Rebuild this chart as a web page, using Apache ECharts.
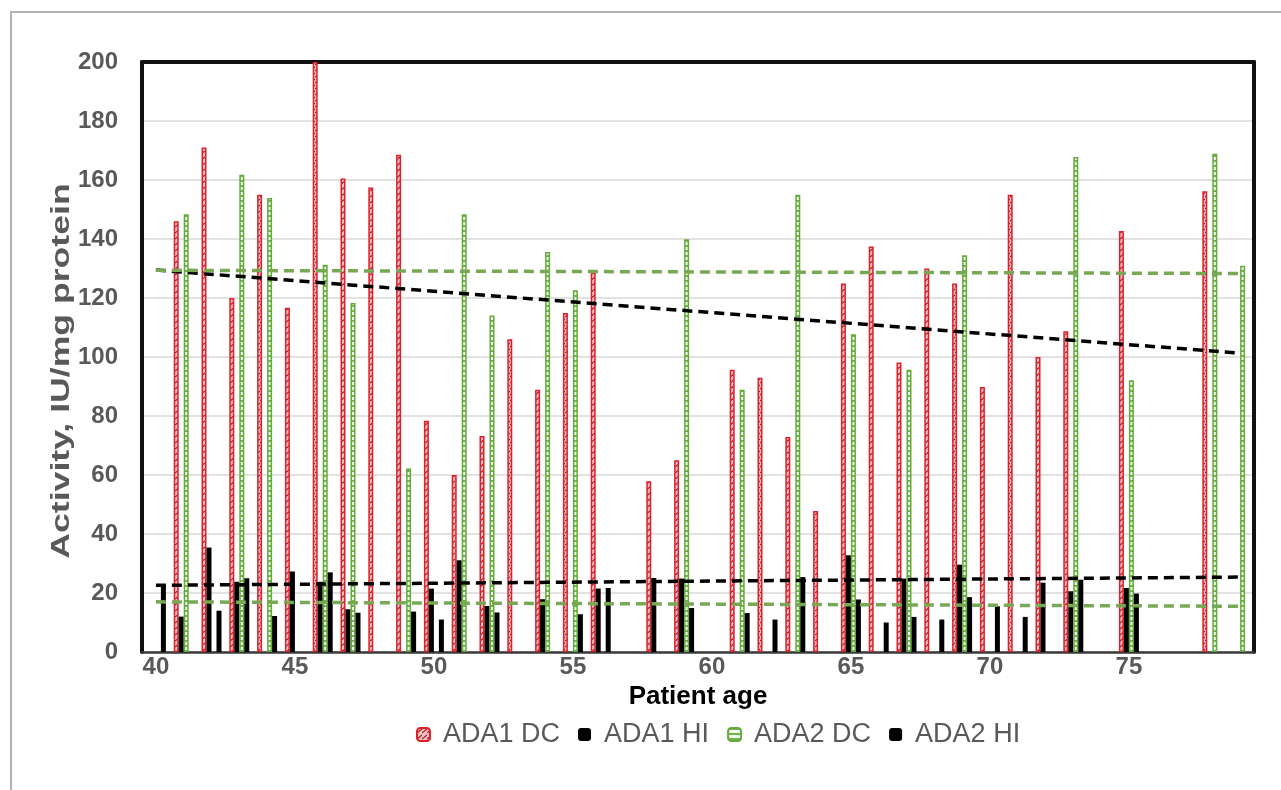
<!DOCTYPE html>
<html>
<head>
<meta charset="utf-8">
<script src="https://cdn.jsdelivr.net/npm/echarts@6/dist/echarts.min.js"></script>
<style>
  html, body { margin: 0; padding: 0; background: #fff; }
  #chart { width: 1281px; height: 790px; }
</style>
</head>
<body>
<div id="chart"></div>
<script>
// ages on the category axis
var ages = [];
for (var a = 40; a <= 79; a++) ages.push(String(a));

// values, one slot per age (null = no bar)
var ada1DC = [null, 146, 171, 120, 155, 116.7, 200, 160.5, 157.5, 168.6,
  78.4, 60, 73.2, 106, 88.9, 114.9, 128.6, null, 57.9, 65,
  null, 95.7, 93, 72.9, 47.8, 124.9, 137.5, 98.1, 130, 124.9,
  89.8, 155, 100, 108.7, null, 142.7, null, null, 156.2, null];
var ada1HI = [null, 12, 35.4, 23.8, null, 27.3, 23.8, 14.5, null, null,
  21.5, 31.1, 15.6, null, 17.9, null, 21.5, null, 25.1, 24.9,
  null, null, null, null, null, 32.8, null, 24.9, null, 29.6,
  null, null, 23.5, 20.6, null, 21.7, null, null, null, null];
var ada2DC = [null, 148.4, null, 161.8, 153.9, null, 131.3, 118.3, null, 62.2,
  null, 148.4, 114.1, null, 135.6, 122.6, null, null, null, 139.9,
  null, 88.9, null, 155, null, 107.7, null, 95.7, null, 134.5,
  null, null, null, 167.8, null, 92.1, null, null, 168.9, 130.9];
var ada2HI = [23, null, 14, 25, 12.2, null, 27, 13.3, null, 13.7,
  11, null, 13.4, null, null, 12.8, 21.7, null, null, 14.9,
  null, 13.2, 11, 25.4, null, 17.8, 10, 11.9, 11, 18.6,
  15.5, 11.9, null, 24.5, null, 19.8, null, null, null, null];

// trend line end points (first age, last age)
var trendDC1 = [129.5, 101.3];
var trendDC2 = [129.4, 128.3];
var trendHI1 = [22.6, 25.4];
var trendHI2 = [17.0, 15.5];

var yTicks = { min: 0, max: 200, step: 20 };

function makePattern(kind) {
  var c = document.createElement("canvas");
  var ctx = c.getContext("2d");
  if (kind === "red") {
    c.width = 5; c.height = 6;
    ctx.fillStyle = "#f4c2c4";
    ctx.fillRect(0, 0, 5, 6);
    ctx.strokeStyle = "#a81d24";
    ctx.lineWidth = 1.2;
    ctx.beginPath();
    ctx.moveTo(0, 5); ctx.lineTo(5, 1);
    ctx.stroke();
  } else {
    c.width = 5; c.height = 5;
    ctx.fillStyle = "#f4faef";
    ctx.fillRect(0, 0, 5, 5);
    ctx.fillStyle = "#74b24c";
    ctx.fillRect(0, 0, 5, 2);
  }
  return { image: c, repeat: "repeat" };
}

function trendSeries(ends, color) {
  return {
    type: "line",
    data: [[0, ends[0]], [ages.length - 1, ends[1]]],
    symbol: "none",
    silent: true,
    z: 5,
    lineStyle: { color: color, width: 3.5, type: [10, 6] }
  };
}

var chart = echarts.init(document.getElementById("chart"));
chart.setOption({
  animation: false,
  graphic: [{
    type: "rect",
    shape: { x: 11, y: 12, width: 1300, height: 800 },
    style: { fill: null, stroke: "#b3b3b3", lineWidth: 2 },
    silent: true
  }, {
    type: "text",
    x: 62, y: 371,
    rotation: Math.PI / 2,
    scaleX: 1.37,
    style: {
      text: "Activity, IU/mg protein",
      fontSize: 26, fontWeight: "bold", fill: "#595959",
      fontFamily: "Liberation Sans",
      align: "center", verticalAlign: "middle"
    },
    silent: true
  }],
  grid: { left: 142, right: 27, top: 62, bottom: 138 },
  legend: {
    top: 716,
    left: 411,
    itemWidth: 13,
    itemHeight: 13,
    itemGap: 18,
    textStyle: { fontSize: 27, color: "#595959", fontFamily: "Liberation Sans", padding: [0, 0, 0, 8] },
    data: ["ADA1 DC", "ADA1 HI", "ADA2 DC", "ADA2 HI"]
  },
  xAxis: [{
    type: "category",
    data: ages,
    boundaryGap: true,
    name: "Patient age",
    nameLocation: "middle",
    nameGap: 8,
    nameTextStyle: { fontSize: 26, fontWeight: "bold", color: "#000", fontFamily: "Liberation Sans" },
    axisLine: { lineStyle: { color: "#3a3a3a", width: 2.5 } },
    axisTick: { show: false },
    axisLabel: {
      interval: function (i) { return i % 5 === 0; },
      fontSize: 24, fontWeight: "bold", color: "#595959",
      fontFamily: "Liberation Sans", margin: 3
    },
    splitLine: { show: false }
  }, {
    type: "value", position: "top", min: 0, max: 1,
    axisLine: { show: true, onZero: false, lineStyle: { color: "#111", width: 4 } },
    axisTick: { show: false }, axisLabel: { show: false }, splitLine: { show: false }
  }],
  yAxis: [{
    type: "value",
    min: yTicks.min, max: yTicks.max, interval: yTicks.step,
    axisLine: { show: true, onZero: false, lineStyle: { color: "#111", width: 4 } },
    axisTick: { show: false },
    axisLabel: { fontSize: 24, fontWeight: "bold", color: "#595959", fontFamily: "Liberation Sans", margin: 24 },
    splitLine: { lineStyle: { color: "#d9d9d9", width: 1.5 } }
  }, {
    type: "value", position: "right", min: 0, max: 1,
    axisLine: { show: true, onZero: false, lineStyle: { color: "#111", width: 4 } },
    axisTick: { show: false }, axisLabel: { show: false }, splitLine: { show: false }
  }],
  series: [{
    name: "ADA1 DC", type: "bar", data: ada1DC,
    barWidth: 5, barGap: "0%",
    itemStyle: { color: makePattern("red"), borderColor: "#df1f2a", borderWidth: 1.5 }
  }, {
    name: "ADA1 HI", type: "bar", data: ada1HI,
    barWidth: 5, barGap: "0%",
    itemStyle: { color: "#000" }
  }, {
    name: "ADA2 DC", type: "bar", data: ada2DC,
    barWidth: 5, barGap: "0%",
    itemStyle: { color: makePattern("green"), borderColor: "#62ab3a", borderWidth: 1.5 }
  }, {
    name: "ADA2 HI", type: "bar", data: ada2HI,
    barWidth: 5, barGap: "0%",
    itemStyle: { color: "#000" }
  },
    trendSeries(trendDC1, "#000"),
    trendSeries(trendDC2, "#77a853"),
    trendSeries(trendHI1, "#000"),
    trendSeries(trendHI2, "#77a853")
  ]
});
</script>
</body>
</html>
